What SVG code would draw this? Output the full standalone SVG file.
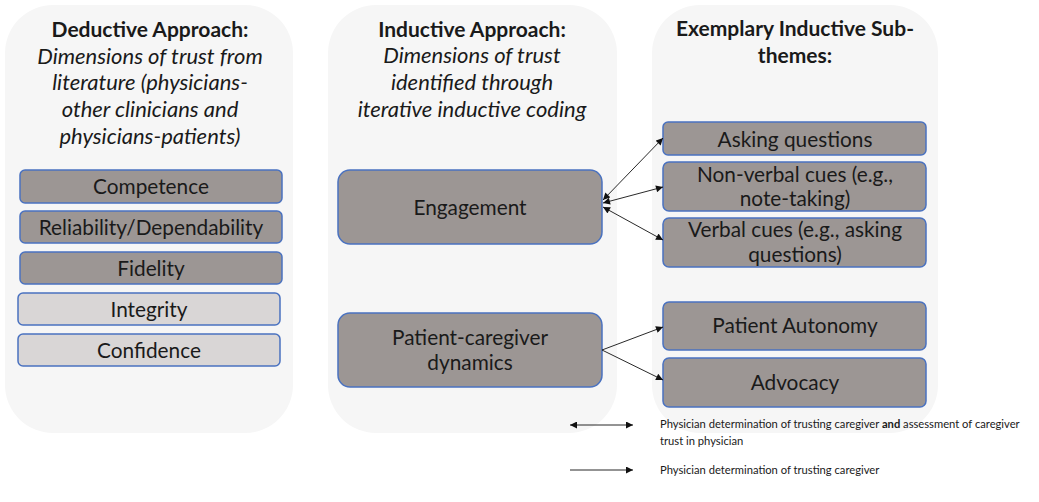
<svg xmlns="http://www.w3.org/2000/svg" width="1039" height="502" viewBox="0 0 1039 502">
  <style>
    .panel { fill: #f6f6f6; }
    .dark { fill: #9c9694; stroke: #4a72c0; stroke-width: 1.5; }
    .light { fill: #d9d6d6; stroke: #4a72c0; stroke-width: 1.5; }
    text { font-family: Lato, "Open Sans", sans-serif; fill: #1a1a1a; text-anchor: middle; }
    .title { font-weight: bold; font-size: 21px; }
    .sub { font-style: italic; font-size: 22px; }
    .lbl { font-size: 20.8px; }
    .legend { font-size: 11.2px; text-anchor: start; }
    .conn { stroke: #111; stroke-width: 0.9; fill: none; }
  </style>
  <defs>
    <marker id="head" viewBox="0 0 10 10" refX="10" refY="5" markerWidth="8" markerHeight="7" markerUnits="userSpaceOnUse" orient="auto-start-reverse">
      <path d="M0,0 L10,5 L0,10 z" fill="#111"/>
    </marker>
  </defs>

  <rect width="1039" height="502" fill="#ffffff"/>

  <!-- Deductive panel -->
  <g id="deductive">
    <rect class="panel" x="5" y="5" width="288" height="428" rx="48"/>
    <text class="title" x="150" y="37">Deductive Approach:</text>
    <text class="sub" x="150" y="64">Dimensions of trust from</text>
    <text class="sub" x="150" y="90">literature (physicians-</text>
    <text class="sub" x="150" y="117">other clinicians and</text>
    <text class="sub" x="150" y="144">physicians-patients)</text>
  </g>
  <g id="competence">
    <rect class="dark" x="20" y="170" width="262" height="33" rx="5"/>
    <text class="lbl" x="151" y="194">Competence</text>
  </g>
  <g id="reliability">
    <rect class="dark" x="20" y="211" width="262" height="32" rx="5"/>
    <text class="lbl" x="151" y="235">Reliability/Dependability</text>
  </g>
  <g id="fidelity">
    <rect class="dark" x="20" y="252" width="262" height="32" rx="5"/>
    <text class="lbl" x="151" y="276">Fidelity</text>
  </g>
  <g id="integrity">
    <rect class="light" x="18" y="293" width="262" height="32" rx="5"/>
    <text class="lbl" x="149" y="317">Integrity</text>
  </g>
  <g id="confidence">
    <rect class="light" x="18" y="334" width="262" height="32" rx="5"/>
    <text class="lbl" x="149" y="358">Confidence</text>
  </g>

  <!-- Inductive panel -->
  <g id="inductive">
    <rect class="panel" x="328" y="5" width="289" height="428" rx="48"/>
    <text class="title" x="472" y="37">Inductive Approach:</text>
    <text class="sub" x="472" y="63">Dimensions of trust</text>
    <text class="sub" x="472" y="90">identified through</text>
    <text class="sub" x="472" y="117">iterative inductive coding</text>
  </g>
  <g id="engagement">
    <rect class="dark" x="338" y="170" width="264" height="74" rx="12"/>
    <text class="lbl" x="470" y="215">Engagement</text>
  </g>
  <g id="patient-caregiver">
    <rect class="dark" x="338" y="313" width="264" height="74" rx="12"/>
    <text class="lbl" x="470" y="345">Patient-caregiver</text>
    <text class="lbl" x="470" y="370">dynamics</text>
  </g>

  <!-- Sub-theme panel -->
  <g id="subthemes">
    <rect class="panel" x="652" y="5" width="286" height="428" rx="48"/>
    <text class="title" x="795" y="36">Exemplary Inductive Sub-</text>
    <text class="title" x="795" y="63">themes:</text>
  </g>
  <g id="asking">
    <rect class="dark" x="663" y="122" width="263" height="33" rx="5"/>
    <text class="lbl" x="795" y="147">Asking questions</text>
  </g>
  <g id="nonverbal">
    <rect class="dark" x="663" y="162" width="263" height="49" rx="6"/>
    <text class="lbl" x="795" y="182">Non-verbal cues (e.g.,</text>
    <text class="lbl" x="795" y="206">note-taking)</text>
  </g>
  <g id="verbal">
    <rect class="dark" x="663" y="218" width="263" height="49" rx="6"/>
    <text class="lbl" x="795" y="237">Verbal cues (e.g., asking</text>
    <text class="lbl" x="795" y="262">questions)</text>
  </g>
  <g id="autonomy">
    <rect class="dark" x="663" y="302" width="263" height="48" rx="6"/>
    <text class="lbl" x="795" y="333">Patient Autonomy</text>
  </g>
  <g id="advocacy">
    <rect class="dark" x="663" y="358" width="263" height="49" rx="6"/>
    <text class="lbl" x="795" y="390">Advocacy</text>
  </g>

  <!-- Connectors -->
  <g id="connectors">
    <line class="conn" x1="603" y1="200" x2="663" y2="138" marker-start="url(#head)" marker-end="url(#head)"/>
    <line class="conn" x1="603" y1="203" x2="663" y2="187" marker-start="url(#head)" marker-end="url(#head)"/>
    <line class="conn" x1="603" y1="207" x2="663" y2="240" marker-start="url(#head)" marker-end="url(#head)"/>
    <line class="conn" x1="602" y1="350" x2="663" y2="327" marker-end="url(#head)"/>
    <line class="conn" x1="602" y1="350" x2="663" y2="380" marker-end="url(#head)"/>
  </g>

  <!-- Legend -->
  <g id="legend">
    <line class="conn" x1="570" y1="425" x2="633" y2="425" marker-start="url(#head)" marker-end="url(#head)"/>
    <text class="legend" x="660" y="428">Physician determination of trusting caregiver <tspan font-weight="bold">and</tspan> assessment of caregiver</text>
    <text class="legend" x="660" y="445">trust in physician</text>
    <line class="conn" x1="570" y1="470" x2="633" y2="470" marker-end="url(#head)"/>
    <text class="legend" x="660" y="474">Physician determination of trusting caregiver</text>
  </g>
</svg>
